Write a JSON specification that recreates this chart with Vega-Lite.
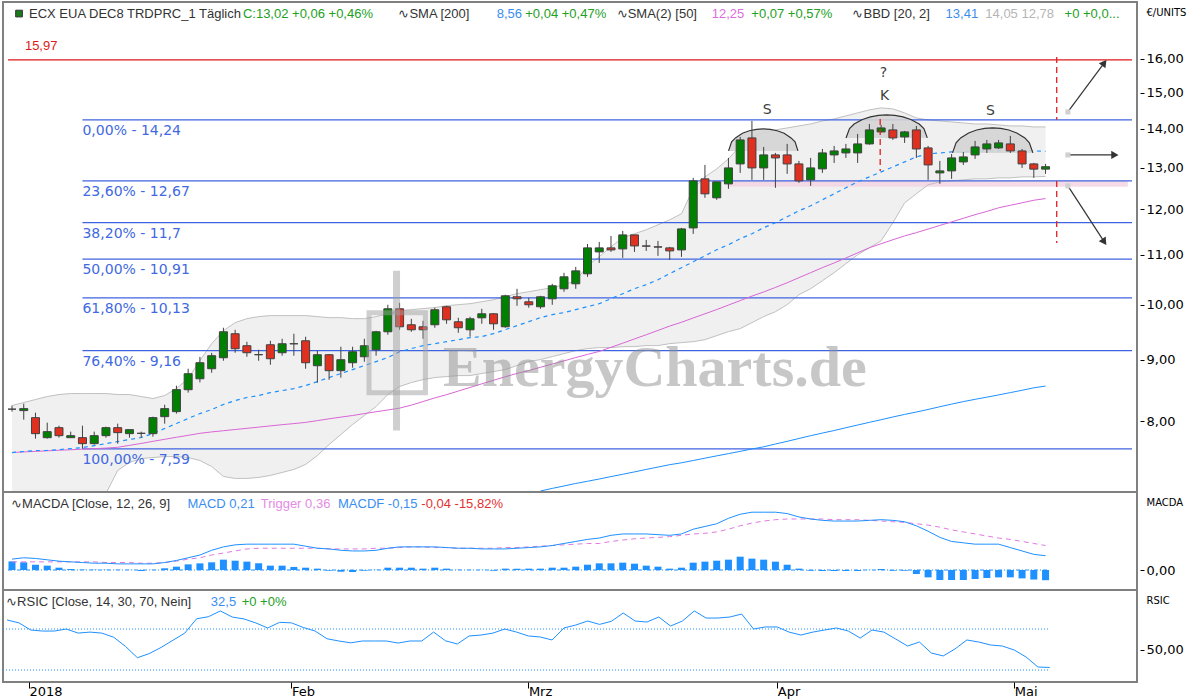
{
"$schema": "https://vega.github.io/schema/vega-lite/v6.json",
"background": "white",
"padding": {"left": 1, "top": 1, "right": 0, "bottom": 0},
"spacing": 0,
"bounds": "flush",
"config": {
  "view": {"stroke": "#808080", "strokeWidth": 2},
  "font": "DejaVu Sans",
  "axis": {"grid": false, "domain": false, "tickColor": "#000000", "tickSize": 4, "labelColor": "#000000", "labelFont": "DejaVu Sans", "labelFontSize": 13, "titleFont": "DejaVu Sans", "titleFontSize": 10, "titleFontWeight": "normal", "titleColor": "#000000"},
  "text": {"font": "DejaVu Sans"}
},
"resolve": {"scale": {"x": "independent", "y": "independent", "color": "independent"}},
"datasets": {
"d": [
{"k":0,"o":8.19,"h":8.245,"l":8.151,"c":8.19,"up":8.247,"lo":6.9,"m20":7.538,"m50":7.538,"m200":null,"macd":0.16,"trig":0.12,"hist":0.127,"rsi":78.8},
{"k":1,"o":8.167,"h":8.276,"l":8.027,"c":8.198,"up":8.294,"lo":6.85,"m20":7.553,"m50":7.547,"m200":null,"macd":0.18,"trig":0.12,"hist":0.113,"rsi":76},
{"k":2,"o":8.058,"h":8.135,"l":7.741,"c":7.815,"up":8.342,"lo":6.8,"m20":7.567,"m50":7.554,"m200":null,"macd":0.17,"trig":0.12,"hist":0.078,"rsi":69},
{"k":3,"o":7.755,"h":7.981,"l":7.741,"c":7.845,"up":8.39,"lo":6.78,"m20":7.567,"m50":7.563,"m200":null,"macd":0.15,"trig":0.12,"hist":0.064,"rsi":68},
{"k":4,"o":7.905,"h":7.935,"l":7.755,"c":7.785,"up":8.422,"lo":6.78,"m20":7.581,"m50":7.571,"m200":null,"macd":0.13,"trig":0.12,"hist":0.034,"rsi":68},
{"k":5,"o":7.755,"h":7.845,"l":7.75,"c":7.785,"up":8.438,"lo":6.8,"m20":7.595,"m50":7.578,"m200":null,"macd":0.12,"trig":0.12,"hist":0.015,"rsi":70},
{"k":6,"o":7.755,"h":7.935,"l":7.595,"c":7.667,"up":8.438,"lo":6.85,"m20":7.61,"m50":7.587,"m200":null,"macd":0.11,"trig":0.12,"hist":0.005,"rsi":66},
{"k":7,"o":7.667,"h":7.845,"l":7.653,"c":7.785,"up":8.438,"lo":6.92,"m20":7.638,"m50":7.594,"m200":null,"macd":0.1,"trig":0.12,"hist":0.005,"rsi":67},
{"k":8,"o":7.785,"h":7.92,"l":7.755,"c":7.905,"up":8.438,"lo":6.97,"m20":7.667,"m50":7.602,"m200":null,"macd":0.1,"trig":0.11,"hist":0.004,"rsi":66},
{"k":9,"o":7.905,"h":7.966,"l":7.667,"c":7.83,"up":8.422,"lo":7.284,"m20":7.698,"m50":7.614,"m200":null,"macd":0.09,"trig":0.11,"hist":0.003,"rsi":62},
{"k":10,"o":7.815,"h":7.875,"l":7.755,"c":7.875,"up":8.422,"lo":7.396,"m20":7.728,"m50":7.642,"m200":null,"macd":0.09,"trig":0.11,"hist":0.002,"rsi":53},
{"k":11,"o":7.82,"h":7.845,"l":7.755,"c":7.82,"up":8.39,"lo":7.452,"m20":7.758,"m50":7.67,"m200":null,"macd":0.09,"trig":0.1,"hist":-0.015,"rsi":42},
{"k":12,"o":7.815,"h":8.073,"l":7.77,"c":8.058,"up":8.358,"lo":7.466,"m20":7.816,"m50":7.701,"m200":null,"macd":0.09,"trig":0.1,"hist":0.002,"rsi":46},
{"k":13,"o":8.073,"h":8.26,"l":7.966,"c":8.198,"up":8.406,"lo":7.48,"m20":7.892,"m50":7.731,"m200":null,"macd":0.11,"trig":0.11,"hist":0.025,"rsi":52},
{"k":14,"o":8.151,"h":8.566,"l":8.12,"c":8.501,"up":8.519,"lo":7.48,"m20":7.968,"m50":7.761,"m200":null,"macd":0.14,"trig":0.13,"hist":0.049,"rsi":59},
{"k":15,"o":8.5,"h":8.848,"l":8.453,"c":8.764,"up":8.683,"lo":7.466,"m20":8.045,"m50":7.79,"m200":null,"macd":0.18,"trig":0.16,"hist":0.083,"rsi":66},
{"k":16,"o":8.68,"h":9.05,"l":8.62,"c":8.95,"up":8.987,"lo":7.424,"m20":8.121,"m50":7.82,"m200":null,"macd":0.22,"trig":0.18,"hist":0.098,"rsi":80},
{"k":17,"o":8.848,"h":9.12,"l":8.78,"c":9.071,"up":9.283,"lo":7.339,"m20":8.184,"m50":7.841,"m200":null,"macd":0.29,"trig":0.22,"hist":0.113,"rsi":82},
{"k":18,"o":9.036,"h":9.569,"l":8.984,"c":9.496,"up":9.516,"lo":7.201,"m20":8.263,"m50":7.859,"m200":null,"macd":0.34,"trig":0.25,"hist":0.152,"rsi":87.6},
{"k":19,"o":9.46,"h":9.532,"l":9.123,"c":9.193,"up":9.663,"lo":7.174,"m20":8.326,"m50":7.877,"m200":null,"macd":0.37,"trig":0.28,"hist":0.137,"rsi":81.7},
{"k":20,"o":9.246,"h":9.316,"l":9.053,"c":9.123,"up":9.737,"lo":7.174,"m20":8.374,"m50":7.895,"m200":null,"macd":0.38,"trig":0.31,"hist":0.123,"rsi":79.8},
{"k":21,"o":9.09,"h":9.175,"l":8.984,"c":9.088,"up":9.775,"lo":7.187,"m20":8.406,"m50":7.913,"m200":null,"macd":0.38,"trig":0.32,"hist":0.098,"rsi":75.9},
{"k":22,"o":9.263,"h":9.334,"l":8.916,"c":9.019,"up":9.794,"lo":7.215,"m20":8.454,"m50":7.932,"m200":null,"macd":0.38,"trig":0.32,"hist":0.064,"rsi":71},
{"k":23,"o":9.123,"h":9.37,"l":9.071,"c":9.281,"up":9.794,"lo":7.256,"m20":8.486,"m50":7.95,"m200":null,"macd":0.38,"trig":0.32,"hist":0.064,"rsi":76.5},
{"k":24,"o":9.28,"h":9.46,"l":9.071,"c":9.281,"up":9.794,"lo":7.298,"m20":8.519,"m50":7.967,"m200":null,"macd":0.38,"trig":0.32,"hist":0.045,"rsi":76},
{"k":25,"o":9.334,"h":9.406,"l":8.848,"c":8.95,"up":9.794,"lo":7.368,"m20":8.567,"m50":7.985,"m200":null,"macd":0.35,"trig":0.32,"hist":0.034,"rsi":71.5},
{"k":26,"o":8.899,"h":9.158,"l":8.615,"c":9.088,"up":9.775,"lo":7.495,"m20":8.633,"m50":8.012,"m200":null,"macd":0.32,"trig":0.32,"hist":0.02,"rsi":68},
{"k":27,"o":9.088,"h":9.1,"l":8.664,"c":8.815,"up":9.756,"lo":7.654,"m20":8.7,"m50":8.04,"m200":null,"macd":0.31,"trig":0.31,"hist":-0.01,"rsi":60.5},
{"k":28,"o":8.815,"h":9.228,"l":8.698,"c":9.002,"up":9.756,"lo":7.802,"m20":8.767,"m50":8.066,"m200":null,"macd":0.29,"trig":0.31,"hist":-0.025,"rsi":58.3},
{"k":29,"o":8.95,"h":9.228,"l":8.865,"c":9.14,"up":9.737,"lo":7.953,"m20":8.834,"m50":8.091,"m200":null,"macd":0.28,"trig":0.31,"hist":-0.03,"rsi":56.5},
{"k":30,"o":9.053,"h":9.37,"l":8.967,"c":9.246,"up":9.737,"lo":8.091,"m20":8.902,"m50":8.121,"m200":null,"macd":0.28,"trig":0.31,"hist":-0.01,"rsi":58.3},
{"k":31,"o":9.175,"h":9.514,"l":9.071,"c":9.496,"up":9.775,"lo":8.231,"m20":8.97,"m50":8.149,"m200":null,"macd":0.29,"trig":0.32,"hist":0.003,"rsi":58.3},
{"k":32,"o":9.496,"h":9.999,"l":9.442,"c":9.923,"up":9.831,"lo":8.422,"m20":9.039,"m50":8.177,"m200":null,"macd":0.32,"trig":0.32,"hist":0.034,"rsi":58.3},
{"k":33,"o":9.923,"h":10.037,"l":9.532,"c":9.587,"up":9.887,"lo":8.552,"m20":9.142,"m50":8.206,"m200":null,"macd":0.34,"trig":0.33,"hist":0.034,"rsi":56.3},
{"k":34,"o":9.624,"h":9.735,"l":9.496,"c":9.532,"up":9.906,"lo":8.617,"m20":9.195,"m50":8.253,"m200":null,"macd":0.34,"trig":0.34,"hist":0.034,"rsi":58.3},
{"k":35,"o":9.587,"h":9.698,"l":9.37,"c":9.532,"up":9.926,"lo":8.666,"m20":9.248,"m50":8.31,"m200":null,"macd":0.34,"trig":0.34,"hist":0.02,"rsi":58.3},
{"k":36,"o":9.624,"h":9.942,"l":9.569,"c":9.904,"up":9.945,"lo":8.7,"m20":9.283,"m50":8.368,"m200":null,"macd":0.34,"trig":0.33,"hist":0.034,"rsi":67},
{"k":37,"o":9.961,"h":9.98,"l":9.642,"c":9.716,"up":9.982,"lo":8.716,"m20":9.318,"m50":8.42,"m200":null,"macd":0.33,"trig":0.33,"hist":0.02,"rsi":58.5},
{"k":38,"o":9.679,"h":9.753,"l":9.478,"c":9.569,"up":10.001,"lo":8.733,"m20":9.354,"m50":8.478,"m200":null,"macd":0.32,"trig":0.32,"hist":0.003,"rsi":55.4},
{"k":39,"o":9.532,"h":9.772,"l":9.406,"c":9.735,"up":10.02,"lo":8.733,"m20":9.39,"m50":8.537,"m200":null,"macd":0.32,"trig":0.32,"hist":0.002,"rsi":63.2},
{"k":40,"o":9.753,"h":9.923,"l":9.642,"c":9.828,"up":10.058,"lo":8.767,"m20":9.408,"m50":8.596,"m200":null,"macd":0.31,"trig":0.32,"hist":0.002,"rsi":64.1},
{"k":41,"o":9.828,"h":9.84,"l":9.532,"c":9.642,"up":10.097,"lo":8.8,"m20":9.462,"m50":8.655,"m200":null,"macd":0.31,"trig":0.32,"hist":-0.01,"rsi":66},
{"k":42,"o":9.587,"h":10.192,"l":9.569,"c":10.172,"up":10.155,"lo":8.834,"m20":9.534,"m50":8.713,"m200":null,"macd":0.31,"trig":0.33,"hist":0.02,"rsi":70},
{"k":43,"o":10.153,"h":10.309,"l":9.98,"c":10.114,"up":10.214,"lo":8.902,"m20":9.608,"m50":8.769,"m200":null,"macd":0.32,"trig":0.33,"hist":0.02,"rsi":67},
{"k":44,"o":10.056,"h":10.133,"l":9.942,"c":9.999,"up":10.252,"lo":8.97,"m20":9.682,"m50":8.817,"m200":null,"macd":0.33,"trig":0.34,"hist":0.02,"rsi":63.2},
{"k":45,"o":9.961,"h":10.172,"l":9.923,"c":10.153,"up":10.292,"lo":9.004,"m20":9.756,"m50":8.873,"m200":7.004,"macd":0.34,"trig":0.35,"hist":0.02,"rsi":62.2},
{"k":46,"o":10.114,"h":10.408,"l":9.999,"c":10.369,"up":10.331,"lo":9.056,"m20":9.812,"m50":8.928,"m200":7.038,"macd":0.36,"trig":0.36,"hist":0.034,"rsi":59.3},
{"k":47,"o":10.309,"h":10.629,"l":10.25,"c":10.548,"up":10.391,"lo":9.108,"m20":9.85,"m50":8.982,"m200":7.071,"macd":0.39,"trig":0.37,"hist":0.034,"rsi":71},
{"k":48,"o":10.408,"h":10.75,"l":10.309,"c":10.669,"up":10.47,"lo":9.16,"m20":9.906,"m50":9.039,"m200":7.105,"macd":0.42,"trig":0.38,"hist":0.049,"rsi":73.9},
{"k":49,"o":10.609,"h":11.233,"l":10.548,"c":11.148,"up":10.774,"lo":9.195,"m20":9.963,"m50":9.094,"m200":7.135,"macd":0.45,"trig":0.39,"hist":0.078,"rsi":77.8},
{"k":50,"o":11.063,"h":11.276,"l":10.833,"c":11.148,"up":10.961,"lo":9.213,"m20":10.02,"m50":9.146,"m200":7.166,"macd":0.47,"trig":0.39,"hist":0.098,"rsi":74.5},
{"k":51,"o":11.148,"h":11.406,"l":11.063,"c":11.105,"up":11.173,"lo":9.213,"m20":10.116,"m50":9.218,"m200":7.199,"macd":0.51,"trig":0.42,"hist":0.098,"rsi":77.5},
{"k":52,"o":11.126,"h":11.516,"l":10.937,"c":11.428,"up":11.366,"lo":9.23,"m20":10.213,"m50":9.291,"m200":7.231,"macd":0.53,"trig":0.44,"hist":0.108,"rsi":85.6},
{"k":53,"o":11.428,"h":11.43,"l":11.063,"c":11.19,"up":11.454,"lo":9.23,"m20":10.311,"m50":9.367,"m200":7.264,"macd":0.53,"trig":0.46,"hist":0.093,"rsi":77.8},
{"k":54,"o":11.19,"h":11.319,"l":11.084,"c":11.185,"up":11.541,"lo":9.248,"m20":10.391,"m50":9.442,"m200":7.298,"macd":0.53,"trig":0.47,"hist":0.064,"rsi":76.8},
{"k":55,"o":11.17,"h":11.297,"l":10.979,"c":11.165,"up":11.652,"lo":9.248,"m20":10.49,"m50":9.52,"m200":7.331,"macd":0.52,"trig":0.48,"hist":0.049,"rsi":81.7},
{"k":56,"o":11.148,"h":11.169,"l":10.895,"c":11.084,"up":11.764,"lo":9.283,"m20":10.612,"m50":9.6,"m200":7.365,"macd":0.51,"trig":0.49,"hist":0.02,"rsi":72.9},
{"k":57,"o":11.105,"h":11.582,"l":10.958,"c":11.56,"up":11.899,"lo":9.301,"m20":10.734,"m50":9.67,"m200":7.391,"macd":0.53,"trig":0.51,"hist":0.034,"rsi":77.8},
{"k":58,"o":11.582,"h":12.745,"l":11.45,"c":12.673,"up":12.481,"lo":9.318,"m20":10.856,"m50":9.75,"m200":7.424,"macd":0.6,"trig":0.53,"hist":0.108,"rsi":87.6},
{"k":59,"o":12.721,"h":13.065,"l":12.268,"c":12.362,"up":12.77,"lo":9.354,"m20":10.98,"m50":9.828,"m200":7.457,"macd":0.64,"trig":0.54,"hist":0.123,"rsi":80.7},
{"k":60,"o":12.268,"h":12.648,"l":12.221,"c":12.648,"up":12.965,"lo":9.426,"m20":11.108,"m50":9.908,"m200":7.49,"macd":0.68,"trig":0.56,"hist":0.137,"rsi":80.7},
{"k":61,"o":12.6,"h":13.241,"l":12.481,"c":12.99,"up":13.216,"lo":9.498,"m20":11.216,"m50":9.993,"m200":7.522,"macd":0.76,"trig":0.6,"hist":0.152,"rsi":81.7},
{"k":62,"o":13.09,"h":13.783,"l":12.867,"c":13.704,"up":13.548,"lo":9.553,"m20":11.345,"m50":10.079,"m200":7.555,"macd":0.82,"trig":0.65,"hist":0.196,"rsi":84.6},
{"k":63,"o":13.757,"h":14.211,"l":12.697,"c":12.99,"up":13.783,"lo":9.663,"m20":11.454,"m50":10.166,"m200":7.589,"macd":0.85,"trig":0.69,"hist":0.167,"rsi":70},
{"k":64,"o":12.99,"h":13.522,"l":12.697,"c":13.317,"up":13.889,"lo":9.775,"m20":11.586,"m50":10.247,"m200":7.621,"macd":0.85,"trig":0.72,"hist":0.152,"rsi":72},
{"k":65,"o":13.317,"h":13.368,"l":12.505,"c":13.241,"up":13.969,"lo":9.868,"m20":11.697,"m50":10.336,"m200":7.662,"macd":0.85,"trig":0.74,"hist":0.123,"rsi":72},
{"k":66,"o":13.317,"h":13.6,"l":12.843,"c":13.09,"up":14.022,"lo":10.001,"m20":11.83,"m50":10.429,"m200":7.701,"macd":0.83,"trig":0.75,"hist":0.078,"rsi":67},
{"k":67,"o":13.09,"h":13.165,"l":12.624,"c":12.673,"up":14.076,"lo":10.194,"m20":11.967,"m50":10.531,"m200":7.743,"macd":0.78,"trig":0.75,"hist":0.02,"rsi":64.1},
{"k":68,"o":12.697,"h":13.241,"l":12.552,"c":12.99,"up":14.13,"lo":10.311,"m20":12.082,"m50":10.632,"m200":7.784,"macd":0.75,"trig":0.75,"hist":-0.01,"rsi":67},
{"k":69,"o":12.966,"h":13.47,"l":12.867,"c":13.368,"up":14.211,"lo":10.47,"m20":12.221,"m50":10.735,"m200":7.824,"macd":0.73,"trig":0.75,"hist":-0.015,"rsi":69},
{"k":70,"o":13.317,"h":13.548,"l":13.115,"c":13.419,"up":14.266,"lo":10.632,"m20":12.363,"m50":10.832,"m200":7.862,"macd":0.72,"trig":0.74,"hist":-0.015,"rsi":71},
{"k":71,"o":13.368,"h":13.6,"l":13.241,"c":13.47,"up":14.348,"lo":10.816,"m20":12.505,"m50":10.935,"m200":7.904,"macd":0.72,"trig":0.74,"hist":-0.015,"rsi":68},
{"k":72,"o":13.368,"h":13.863,"l":13.115,"c":13.6,"up":14.431,"lo":11.001,"m20":12.649,"m50":11.043,"m200":7.945,"macd":0.72,"trig":0.74,"hist":-0.015,"rsi":61.2},
{"k":73,"o":13.6,"h":14.13,"l":13.58,"c":13.969,"up":14.514,"lo":11.151,"m20":12.77,"m50":11.151,"m200":7.986,"macd":0.73,"trig":0.73,"hist":0.002,"rsi":69},
{"k":74,"o":13.916,"h":14.103,"l":13.9,"c":14.022,"up":14.57,"lo":11.301,"m20":12.892,"m50":11.237,"m200":8.026,"macd":0.74,"trig":0.72,"hist":0.015,"rsi":67},
{"k":75,"o":13.969,"h":14.13,"l":13.704,"c":13.757,"up":14.542,"lo":11.697,"m20":13.015,"m50":11.323,"m200":8.068,"macd":0.73,"trig":0.71,"hist":-0.01,"rsi":60.2},
{"k":76,"o":13.783,"h":13.942,"l":13.626,"c":13.916,"up":14.431,"lo":12.151,"m20":13.14,"m50":11.406,"m200":8.108,"macd":0.71,"trig":0.7,"hist":-0.01,"rsi":53.4},
{"k":77,"o":13.969,"h":14.076,"l":13.241,"c":13.47,"up":14.293,"lo":12.363,"m20":13.267,"m50":11.478,"m200":8.145,"macd":0.65,"trig":0.68,"hist":-0.059,"rsi":57.3},
{"k":78,"o":13.496,"h":13.548,"l":12.697,"c":13.065,"up":14.239,"lo":12.577,"m20":13.343,"m50":11.557,"m200":8.185,"macd":0.57,"trig":0.66,"hist":-0.108,"rsi":46.6},
{"k":79,"o":12.867,"h":13.165,"l":12.6,"c":12.916,"up":14.211,"lo":12.649,"m20":13.368,"m50":11.637,"m200":8.228,"macd":0.48,"trig":0.63,"hist":-0.147,"rsi":43.7},
{"k":80,"o":12.916,"h":13.342,"l":12.721,"c":13.241,"up":14.184,"lo":12.673,"m20":13.393,"m50":11.717,"m200":8.269,"macd":0.42,"trig":0.59,"hist":-0.147,"rsi":50.5},
{"k":81,"o":13.14,"h":13.393,"l":13.065,"c":13.266,"up":14.157,"lo":12.697,"m20":13.393,"m50":11.797,"m200":8.309,"macd":0.4,"trig":0.56,"hist":-0.147,"rsi":59.3},
{"k":82,"o":13.317,"h":13.678,"l":13.216,"c":13.522,"up":14.13,"lo":12.721,"m20":13.419,"m50":11.879,"m200":8.345,"macd":0.38,"trig":0.53,"hist":-0.132,"rsi":57.3},
{"k":83,"o":13.47,"h":13.704,"l":13.368,"c":13.6,"up":14.13,"lo":12.721,"m20":13.419,"m50":11.953,"m200":8.38,"macd":0.38,"trig":0.5,"hist":-0.118,"rsi":54.4},
{"k":84,"o":13.496,"h":13.704,"l":13.47,"c":13.626,"up":14.103,"lo":12.745,"m20":13.419,"m50":12.036,"m200":8.416,"macd":0.38,"trig":0.47,"hist":-0.108,"rsi":53.4},
{"k":85,"o":13.6,"h":13.81,"l":13.368,"c":13.419,"up":14.076,"lo":12.745,"m20":13.419,"m50":12.094,"m200":8.453,"macd":0.33,"trig":0.45,"hist":-0.108,"rsi":49.5},
{"k":86,"o":13.419,"h":13.47,"l":12.99,"c":13.09,"up":14.076,"lo":12.77,"m20":13.419,"m50":12.152,"m200":8.491,"macd":0.28,"trig":0.42,"hist":-0.123,"rsi":42.7},
{"k":87,"o":13.09,"h":13.115,"l":12.745,"c":12.96,"up":14.049,"lo":12.77,"m20":13.419,"m50":12.211,"m200":8.531,"macd":0.23,"trig":0.39,"hist":-0.14,"rsi":32.9},
{"k":88,"o":12.96,"h":13.09,"l":12.843,"c":13.02,"up":14.049,"lo":12.78,"m20":13.41,"m50":12.25,"m200":8.56,"macd":0.21,"trig":0.36,"hist":-0.15,"rsi":32.5}
],
"fib": [
{"k":6.0,"k2":95.36,"v":14.24,"t":"0,00% - 14,24"},
{"k":6.0,"k2":95.36,"v":12.67,"t":"23,60% - 12,67"},
{"k":6.0,"k2":95.36,"v":11.7,"t":"38,20% - 11,7"},
{"k":6.0,"k2":95.36,"v":10.91,"t":"50,00% - 10,91"},
{"k":6.0,"k2":95.36,"v":10.13,"t":"61,80% - 10,13"},
{"k":6.0,"k2":95.36,"v":9.16,"t":"76,40% - 9,16"},
{"k":6.0,"k2":95.36,"v":7.59,"t":"100,00% - 7,59"}
],
"red": [{"k":-0.34,"k2":95.36,"v":15.97}],
"pink": [{"k":60.9,"k2":95.0,"v":12.673,"v2":12.529}],
"dome": [
{"g":1,"k":61.01,"top":13.419,"base":13.419},{"g":1,"k":61.27,"top":13.652,"base":13.419},{"g":1,"k":61.6,"top":13.757,"base":13.419},{"g":1,"k":62.19,"top":13.879,"base":13.419},{"g":1,"k":62.78,"top":13.948,"base":13.419},{"g":1,"k":63.38,"top":13.985,"base":13.419},{"g":1,"k":63.97,"top":13.996,"base":13.419},{"g":1,"k":64.56,"top":13.985,"base":13.419},{"g":1,"k":65.15,"top":13.948,"base":13.419},{"g":1,"k":65.74,"top":13.879,"base":13.419},{"g":1,"k":66.33,"top":13.757,"base":13.419},{"g":1,"k":66.67,"top":13.652,"base":13.419},{"g":1,"k":66.92,"top":13.419,"base":13.419},
{"g":2,"k":71.01,"top":13.757,"base":13.757},{"g":2,"k":71.31,"top":14.004,"base":13.757},{"g":2,"k":71.7,"top":14.127,"base":13.757},{"g":2,"k":72.41,"top":14.25,"base":13.757},{"g":2,"k":73.09,"top":14.323,"base":13.757},{"g":2,"k":73.78,"top":14.362,"base":13.757},{"g":2,"k":74.47,"top":14.375,"base":13.757},{"g":2,"k":75.16,"top":14.362,"base":13.757},{"g":2,"k":75.86,"top":14.323,"base":13.757},{"g":2,"k":76.53,"top":14.25,"base":13.757},{"g":2,"k":77.24,"top":14.127,"base":13.757},{"g":2,"k":77.64,"top":14.004,"base":13.757},{"g":2,"k":77.93,"top":13.757,"base":13.757},
{"g":3,"k":80.08,"top":13.368,"base":13.368},{"g":3,"k":80.38,"top":13.626,"base":13.368},{"g":3,"k":80.77,"top":13.757,"base":13.368},{"g":3,"k":81.45,"top":13.889,"base":13.368},{"g":3,"k":82.13,"top":13.966,"base":13.368},{"g":3,"k":82.82,"top":14.009,"base":13.368},{"g":3,"k":83.5,"top":14.022,"base":13.368},{"g":3,"k":84.18,"top":14.009,"base":13.368},{"g":3,"k":84.87,"top":13.966,"base":13.368},{"g":3,"k":85.55,"top":13.889,"base":13.368},{"g":3,"k":86.24,"top":13.757,"base":13.368},{"g":3,"k":86.62,"top":13.626,"base":13.368},{"g":3,"k":86.92,"top":13.368,"base":13.368}
],
"vdash": [
{"k":73.92,"v":14.266,"v2":12.916},
{"k":88.95,"v":16.06,"v2":14.24},
{"k":88.95,"v":12.67,"v2":11.254}
],
"arr": [
{"a":"up","k":89.9,"v":14.458,"k2":93.0,"v2":15.878},
{"a":"right","k":89.9,"v":13.317,"k2":93.9,"v2":13.317},
{"a":"down","k":89.9,"v":12.552,"k2":93.0,"v2":11.276}
],
"wm": [{"k":36.7,"v":8.566,"t":"EnergyCharts.de"}],
"wmbox": [{"k":30.4,"k2":35.2,"v":9.85,"v2":8.45}],
"wmbar": [{"k":32.74,"v":10.672,"v2":7.862}],
"lett": [
{"k":64.3,"v":14.514,"t":"S"},
{"k":74.2,"v":15.58,"t":"?"},
{"k":74.3,"v":14.905,"t":"K"},
{"k":83.3,"v":14.486,"t":"S"}
],
"icon": [{"k":0.6,"v":17.45}],
"hdr": [
{"k":1.45,"v":17.45,"t":"ECX EUA DEC8 TRDPRC_1 Täglich","r":"name"},
{"k":19.66,"v":17.45,"t":"C:13,02 +0,06 +0,46%","r":"chg"},
{"k":32.9,"v":17.45,"t":"∿SMA [200]","r":"name"},
{"k":41.27,"v":17.45,"t":"8,56","r":"blue"},
{"k":43.7,"v":17.45,"t":"+0,04 +0,47%","r":"chg"},
{"k":51.48,"v":17.45,"t":"∿SMA(2) [50]","r":"name"},
{"k":59.58,"v":17.45,"t":"12,25","r":"mag"},
{"k":62.95,"v":17.45,"t":"+0,07 +0,57%","r":"chg"},
{"k":71.56,"v":17.45,"t":"∿BBD [20, 2]","r":"name"},
{"k":79.49,"v":17.45,"t":"13,41","r":"blue"},
{"k":82.87,"v":17.45,"t":"14,05 12,78","r":"grey"},
{"k":89.62,"v":17.45,"t":"+0 +0,0...","r":"chg"},
{"k":1.1,"v":16.4,"t":"15,97","r":"red"}
],
"zl": [{"k":-0.34,"k2":88.3,"v":0}],
"mh": [
{"k":-0.08,"v":0.97,"t":"∿MACDA [Close, 12, 26, 9]","r":"name"},
{"k":14.94,"v":0.97,"t":"MACD 0,21","r":"blue"},
{"k":21.18,"v":0.97,"t":"Trigger 0,36","r":"pink"},
{"k":27.76,"v":0.97,"t":"MACDF -0,15","r":"blue"},
{"k":34.85,"v":0.97,"t":"-0,04 -15,82%","r":"red"}
],
"rl": [{"k":-0.34,"k2":87.9,"v":70},{"k":-0.34,"k2":87.9,"v":30}],
"rh": [
{"k":-0.08,"v":96.3,"t":"∿RSIC [Close, 14, 30, 70, Nein]","r":"name"},
{"k":17.2,"v":96.3,"t":"32,5","r":"blue"},
{"k":19.8,"v":96.3,"t":"+0 +0%","r":"chg"}
]
},
"vconcat": [
{
"width": 1134, "height": 490,
"encoding": {"x": {"field": "k", "type": "quantitative", "scale": {"domain": [-0.34, 95.36], "nice": false, "zero": false}, "axis": null}},
"layer": [
{"data": {"name": "d"}, "mark": {"type": "area", "color": "#f0f0f0", "clip": true},
 "encoding": {"y": {"field": "up", "type": "quantitative", "scale": {"type": "log", "domain": [6.99, 17.84], "nice": false, "zero": false},
   "axis": {"orient": "right", "values": [8,9,10,11,12,13,14,15,16], "labelExpr": "replace(format(datum.value, '.2f'), '.', ',')", "offset": 3, "labelPadding": 2, "title": "€/UNITS", "titleAngle": 0, "titleAlign": "left", "titleBaseline": "top", "titleX": 6, "titleY": 5}},
  "y2": {"field": "lo"}}},
{"data": {"name": "pink"}, "mark": {"type": "rect", "color": "#f3d3e3", "opacity": 0.85},
 "encoding": {"x2": {"field": "k2"}, "y": {"field": "v", "type": "quantitative"}, "y2": {"field": "v2"}}},
{"data": {"name": "d"}, "mark": {"type": "line", "color": "#c0c0c0", "strokeWidth": 1, "clip": true},
 "encoding": {"y": {"field": "up", "type": "quantitative"}}},
{"data": {"name": "d"}, "mark": {"type": "line", "color": "#c0c0c0", "strokeWidth": 1, "clip": true},
 "encoding": {"y": {"field": "lo", "type": "quantitative"}}},
{"data": {"name": "fib"}, "mark": {"type": "rule", "color": "#3f63e0", "strokeWidth": 1.3},
 "encoding": {"x2": {"field": "k2"}, "y": {"field": "v", "type": "quantitative"}}},
{"data": {"name": "red"}, "mark": {"type": "rule", "color": "#e01818", "strokeWidth": 1.3},
 "encoding": {"x2": {"field": "k2"}, "y": {"field": "v", "type": "quantitative"}}},
{"data": {"name": "d"}, "mark": {"type": "line", "color": "#1e90ff", "strokeWidth": 1, "clip": true},
 "encoding": {"y": {"field": "m200", "type": "quantitative"}}},
{"data": {"name": "d"}, "mark": {"type": "line", "color": "#d966d6", "strokeWidth": 1, "clip": true},
 "encoding": {"y": {"field": "m50", "type": "quantitative"}}},
{"data": {"name": "d"}, "mark": {"type": "line", "color": "#1e90ff", "strokeWidth": 1.2, "strokeDash": [4, 4], "clip": true},
 "encoding": {"y": {"field": "m20", "type": "quantitative"}}},
{"data": {"name": "dome"}, "mark": {"type": "area", "color": "#d4d4d4", "opacity": 0.9},
 "encoding": {"y": {"field": "top", "type": "quantitative"}, "y2": {"field": "base"}, "detail": {"field": "g", "type": "nominal"}}},
{"data": {"name": "dome"}, "mark": {"type": "line", "color": "#333333", "strokeWidth": 1.2},
 "encoding": {"y": {"field": "top", "type": "quantitative"}, "detail": {"field": "g", "type": "nominal"}}},
{"data": {"name": "d"}, "mark": {"type": "rule", "color": "#404040", "strokeWidth": 1},
 "encoding": {"y": {"field": "l", "type": "quantitative"}, "y2": {"field": "h"}}},
{"data": {"name": "d"}, "mark": {"type": "bar", "width": 8, "stroke": "#404040", "strokeWidth": 1},
 "encoding": {"y": {"field": "o", "type": "quantitative"}, "y2": {"field": "c"},
  "fill": {"condition": {"test": "datum.c >= datum.o", "value": "#008000"}, "value": "#e03020"}}},
{"data": {"name": "wmbox"}, "mark": {"type": "rect", "filled": false, "stroke": "#a0a0a0", "strokeWidth": 5, "opacity": 0.5},
 "encoding": {"x2": {"field": "k2"}, "y": {"field": "v", "type": "quantitative"}, "y2": {"field": "v2"}}},
{"data": {"name": "wmbar"}, "mark": {"type": "rule", "color": "#a0a0a0", "strokeWidth": 7, "opacity": 0.5},
 "encoding": {"y": {"field": "v", "type": "quantitative"}, "y2": {"field": "v2"}}},
{"data": {"name": "wm"}, "mark": {"type": "text", "font": "Liberation Serif", "fontWeight": "bold", "fontSize": 58, "align": "left", "baseline": "alphabetic", "color": "#909090", "opacity": 0.5},
 "encoding": {"y": {"field": "v", "type": "quantitative"}, "text": {"field": "t"}}},
{"data": {"name": "fib"}, "mark": {"type": "text", "align": "left", "baseline": "middle", "dy": 11, "fontSize": 14, "color": "#4169e1"},
 "encoding": {"y": {"field": "v", "type": "quantitative"}, "text": {"field": "t"}}},
{"data": {"name": "lett"}, "mark": {"type": "text", "align": "center", "baseline": "middle", "fontSize": 14, "color": "#404040"},
 "encoding": {"y": {"field": "v", "type": "quantitative"}, "text": {"field": "t"}}},
{"data": {"name": "vdash"}, "mark": {"type": "rule", "color": "#e02020", "strokeWidth": 1.3, "strokeDash": [6, 4]},
 "encoding": {"y": {"field": "v", "type": "quantitative"}, "y2": {"field": "v2"}}},
{"data": {"name": "arr"}, "mark": {"type": "rule", "color": "#333333", "strokeWidth": 1.2},
 "encoding": {"x2": {"field": "k2"}, "y": {"field": "v", "type": "quantitative"}, "y2": {"field": "v2"}}},
{"data": {"name": "arr"}, "transform": [{"filter": "datum.a == 'up'"}], "mark": {"type": "point", "shape": "triangle-up", "filled": true, "color": "#333333", "size": 70, "angle": 37, "opacity": 1},
 "encoding": {"x": {"field": "k2", "type": "quantitative"}, "y": {"field": "v2", "type": "quantitative"}}},
{"data": {"name": "arr"}, "transform": [{"filter": "datum.a == 'right'"}], "mark": {"type": "point", "shape": "triangle-up", "filled": true, "color": "#333333", "size": 70, "angle": 90, "opacity": 1},
 "encoding": {"x": {"field": "k2", "type": "quantitative"}, "y": {"field": "v2", "type": "quantitative"}}},
{"data": {"name": "arr"}, "transform": [{"filter": "datum.a == 'down'"}], "mark": {"type": "point", "shape": "triangle-up", "filled": true, "color": "#333333", "size": 70, "angle": 146, "opacity": 1},
 "encoding": {"x": {"field": "k2", "type": "quantitative"}, "y": {"field": "v2", "type": "quantitative"}}},
{"data": {"name": "arr"}, "mark": {"type": "point", "shape": "square", "filled": true, "color": "#d0d0d0", "size": 25, "opacity": 1},
 "encoding": {"y": {"field": "v", "type": "quantitative"}}},
{"data": {"name": "icon"}, "mark": {"type": "point", "shape": "square", "filled": true, "color": "#1a7a1a", "stroke": "#333333", "strokeWidth": 1, "size": 45, "opacity": 1},
 "encoding": {"y": {"field": "v", "type": "quantitative"}}},
{"data": {"name": "hdr"}, "mark": {"type": "text", "align": "left", "baseline": "middle", "fontSize": 13, "font": "Liberation Sans"},
 "encoding": {"y": {"field": "v", "type": "quantitative"}, "text": {"field": "t"},
  "color": {"field": "r", "type": "nominal", "legend": null, "scale": {"domain": ["name","chg","blue","mag","grey","red"], "range": ["#333333","#22a022","#3a8ef0","#dd6ddd","#b5b5b5","#e01818"]}}}}
]
},
{
"width": 1134, "height": 98,
"encoding": {"x": {"field": "k", "type": "quantitative", "scale": {"domain": [-0.34, 95.36], "nice": false, "zero": false}, "axis": null}},
"layer": [
{"data": {"name": "zl"}, "mark": {"type": "rule", "color": "#1e90ff", "strokeWidth": 1, "strokeDash": [4, 2, 1, 2]},
 "encoding": {"x2": {"field": "k2"}, "y": {"field": "v", "type": "quantitative", "scale": {"domain": [-0.294, 1.147], "nice": false, "zero": false},
   "axis": {"orient": "right", "values": [0], "labelExpr": "'0,00'", "offset": 3, "labelPadding": 2, "title": "MACDA", "titleAngle": 0, "titleAlign": "left", "titleBaseline": "top", "titleX": 6, "titleY": 5}}}},
{"data": {"name": "d"}, "mark": {"type": "bar", "width": 7, "color": "#1e90ff"},
 "encoding": {"y": {"field": "hist", "type": "quantitative"}, "y2": {"datum": 0}}},
{"data": {"name": "d"}, "mark": {"type": "line", "color": "#e07ae0", "strokeWidth": 1, "strokeDash": [5, 4]},
 "encoding": {"y": {"field": "trig", "type": "quantitative"}}},
{"data": {"name": "d"}, "mark": {"type": "line", "color": "#1e90ff", "strokeWidth": 1},
 "encoding": {"y": {"field": "macd", "type": "quantitative"}}},
{"data": {"name": "mh"}, "mark": {"type": "text", "align": "left", "baseline": "middle", "fontSize": 13, "font": "Liberation Sans"},
 "encoding": {"y": {"field": "v", "type": "quantitative"}, "text": {"field": "t"},
  "color": {"field": "r", "type": "nominal", "legend": null, "scale": {"domain": ["name","blue","pink","red"], "range": ["#333333","#3a8ef0","#e58ae5","#e53030"]}}}}
]
},
{
"width": 1134, "height": 92,
"encoding": {"x": {"field": "k", "type": "quantitative", "scale": {"domain": [-0.34, 95.36], "nice": false, "zero": false},
  "axis": {"values": [1.85, 24, 44, 65, 85], "labelExpr": "datum.value < 10 ? '2018' : datum.value < 30 ? 'Feb' : datum.value < 50 ? 'Mrz' : datum.value < 70 ? 'Apr' : 'Mai'", "labelAlign": "left", "labelBaseline": "top", "labelPadding": -3, "labelDx": 2, "tickSize": 6, "title": null, "labelFontSize": 13, "labelFlush": false, "labelOverlap": false}}},
"layer": [
{"data": {"name": "rl"}, "mark": {"type": "rule", "color": "#1e90ff", "strokeWidth": 1, "strokeDash": [1, 2]},
 "encoding": {"x2": {"field": "k2"}, "y": {"field": "v", "type": "quantitative", "scale": {"domain": [18.3, 108.05], "nice": false, "zero": false},
   "axis": {"orient": "right", "values": [50], "labelExpr": "'50,00'", "offset": 3, "labelPadding": 2, "title": "RSIC", "titleAngle": 0, "titleAlign": "left", "titleBaseline": "top", "titleX": 6, "titleY": 5}}}},
{"data": {"name": "d"}, "mark": {"type": "line", "color": "#1e90ff", "strokeWidth": 1},
 "encoding": {"y": {"field": "rsi", "type": "quantitative"}}},
{"data": {"name": "rh"}, "mark": {"type": "text", "align": "left", "baseline": "middle", "fontSize": 13, "font": "Liberation Sans"},
 "encoding": {"y": {"field": "v", "type": "quantitative"}, "text": {"field": "t"},
  "color": {"field": "r", "type": "nominal", "legend": null, "scale": {"domain": ["name","blue","chg"], "range": ["#333333","#3a8ef0","#22a022"]}}}}
]
}
]
}
